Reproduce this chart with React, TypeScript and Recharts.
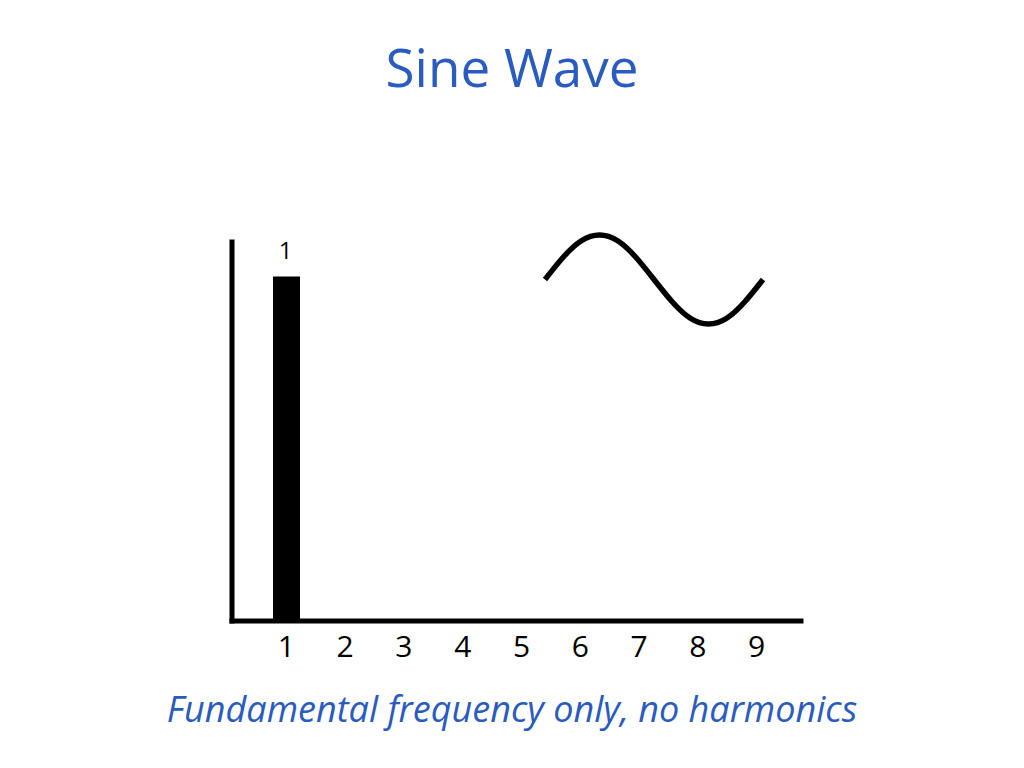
import { BarChart, Bar, XAxis, YAxis, LabelList, LineChart, Line } from 'recharts'

// harmonic number on the x axis
const harmonics = ['1', '2', '3', '4', '5', '6', '7', '8', '9']
// relative amplitude of each harmonic: a pure sine only has the fundamental
const amplitudes = [1, 0, 0, 0, 0, 0, 0, 0, 0]
// label printed above each bar (only the fundamental has one)
const barLabels = ['1', '', '', '', '', '', '', '', '']

// one period of the wave drawn in the inset, sampled every 30 degrees
const wavePhase = [0, 1, 2, 3, 4, 5, 6, 7, 8, 9, 10, 11, 12]
const waveValues = [0, 0.5, 0.87, 1, 0.87, 0.5, 0, -0.5, -0.87, -1, -0.87, -0.5, 0]

const blue = '#2A5BBE'
const font = '"Open Sans", sans-serif'

// tick digits, drawn by hand so the size is sure to stick
const HarmonicTick = (props: any) => {
  const { x, y, payload } = props
  return (
    <text x={x} y={y + 22} textAnchor="middle" fill="#000" fontSize={30} fontWeight={500} fontFamily={font}>
      {payload.value}
    </text>
  )
}

const TopLabel = (props: any) => {
  const { x, y, width, value } = props
  if (!value) return null
  return (
    <text x={x + width / 2 - 1} y={y - 17} textAnchor="middle" fill="#000" fontSize={24} fontFamily={font}>
      {value}
    </text>
  )
}

export default function App() {
  const spectrum = harmonics.map((h, i) => ({
    harmonic: h,
    amplitude: amplitudes[i],
    label: barLabels[i],
  }))

  const wave = wavePhase.map((p, i) => ({ phase: p, value: waveValues[i] }))

  return (
    <div style={{ position: 'absolute', left: 0, top: 0, width: 1024, height: 768, background: '#fff', overflow: 'hidden' }}>
      <div
        style={{
          position: 'absolute',
          left: 0,
          top: 40,
          width: 1024,
          textAlign: 'center',
          fontFamily: font,
          fontSize: 53,
          lineHeight: 1,
          color: blue,
        }}
      >
        Sine Wave
      </div>

      <div style={{ position: 'absolute', left: 0, top: 0 }}>
        <BarChart
          width={1024}
          height={768}
          data={spectrum}
          margin={{ top: 242, left: 212, right: 223, bottom: 107 }}
        >
          <XAxis
            dataKey="harmonic"
            height={40}
            padding={{ left: 25, right: 15 }}
            tickLine={false}
            tickSize={0}
            tickMargin={14}
            axisLine={{ stroke: '#000', strokeWidth: 5, strokeLinecap: 'square' }}
            tick={<HarmonicTick />}
            interval={0}
          />
          <YAxis
            width={20}
            domain={[0, 1.1]}
            tick={false}
            tickLine={false}
            axisLine={{ stroke: '#000', strokeWidth: 5, strokeLinecap: 'square' }}
          />
          <Bar dataKey="amplitude" fill="#000" barSize={27} isAnimationActive={false}>
            <LabelList dataKey="label" content={<TopLabel />} />
          </Bar>
        </BarChart>
      </div>

      <div style={{ position: 'absolute', left: 540, top: 230 }}>
        <LineChart width={228} height={99} data={wave} margin={{ top: 5, right: 5, bottom: 5, left: 5 }}>
          <XAxis dataKey="phase" type="number" domain={[0, 12]} hide />
          <YAxis domain={[-1, 1]} hide />
          <Line
            type="natural"
            dataKey="value"
            stroke="#000"
            strokeWidth={5.5}
            dot={false}
            isAnimationActive={false}
          />
        </LineChart>
      </div>

      <div
        style={{
          position: 'absolute',
          left: 0,
          top: 691,
          width: 1024,
          textAlign: 'center',
          fontFamily: font,
          fontStyle: 'italic',
          fontSize: 36,
          lineHeight: 1,
          color: blue,
        }}
      >
        Fundamental frequency only, no harmonics
      </div>
    </div>
  )
}
